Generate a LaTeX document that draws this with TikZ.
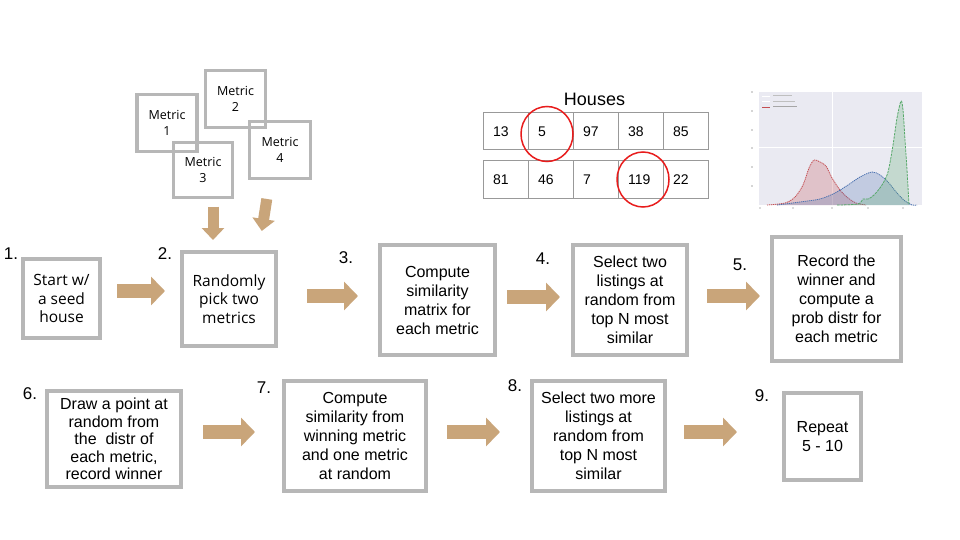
\documentclass[tikz,border=0pt]{standalone}
\usepackage{fontspec}
\setmainfont{Liberation Sans}
\newfontfamily\osans{Open Sans}
\usetikzlibrary{arrows.meta,shapes.geometric}
\definecolor{boxgray}{RGB}{183,183,183}
\definecolor{tanc}{RGB}{201,165,122}
\definecolor{gridgray}{RGB}{153,153,153}
\definecolor{circred}{RGB}{232,28,28}
\definecolor{plotbg}{RGB}{234,234,242}
\definecolor{sred}{RGB}{196,78,82}
\definecolor{sblue}{RGB}{76,114,176}
\definecolor{sgreen}{RGB}{85,168,104}
\begin{document}
\begin{tikzpicture}[x=1pt,y=-1pt,
  stepbox/.style={draw=boxgray, line width=3.5pt, inner sep=0pt, outer sep=0pt, align=center,
    font=\fontsize{16}{19}\selectfont},
  osbox/.style={stepbox, font=\osans\fontsize{15.5}{18.5}\selectfont},
  metricbox/.style={draw=boxgray, line width=3.2pt, inner sep=0pt, outer sep=0pt, align=center,
    minimum width=60pt, minimum height=57pt, font=\osans\fontsize{12.5}{16}\selectfont},
  num/.style={inner sep=0pt, font=\fontsize{17}{19}\selectfont},
  blk/.style={draw=tanc, line width=14pt, -{Triangle[width=28pt,length=14pt]}},
  dblk/.style={draw=tanc, line width=11pt, -{Triangle[width=22pt,length=12pt]}},
  cell/.style={draw=gridgray, line width=1pt, minimum width=45pt, minimum height=37pt,
    inner xsep=10pt, inner ysep=0pt, text width=25pt, align=left, outer sep=0pt,
    font=\fontsize{14}{16}\selectfont},
  ring/.style={draw=circred, line width=1.5pt, ellipse, inner sep=0pt, minimum width=52pt, minimum height=55pt}
]
\useasboundingbox (0,0) rectangle (960,540);
\fill[white] (0,0) rectangle (960,540);

% ---- main step boxes ----
\node[osbox, minimum width=77pt, minimum height=79pt] (b1) at (61.5,298.5) {Start w/\\a seed\\house};
\node[osbox, minimum width=94pt, minimum height=94pt] (b2) at (229,299) {Randomly\\pick two\\metrics};
\node[stepbox, minimum width=115pt, minimum height=110pt] (b3) at (437.5,300) {Compute\\similarity\\matrix for\\each metric};
\node[stepbox, minimum width=114pt, minimum height=110pt] (b4) at (630,300) {Select two\\listings at\\random from\\top N most\\similar};
\node[stepbox, minimum width=129pt, minimum height=124pt] (b5) at (836.5,299) {Record the\\winner and\\compute a\\prob distr for\\each metric};
\node[stepbox, minimum width=134pt, minimum height=96pt, font=\fontsize{16}{17.6}\selectfont] (b6) at (114,439) {Draw a point at\\random from\\the\ \ distr of\\each metric,\\record winner};
\node[stepbox, minimum width=142pt, minimum height=110pt] (b7) at (355,436) {Compute\\similarity from\\winning metric\\and one metric\\at random};
\node[stepbox, minimum width=133pt, minimum height=110pt] (b8) at (598.5,436) {Select two more\\listings at\\random from\\top N most\\similar};
\node[stepbox, minimum width=77pt, minimum height=87pt] (b9) at (822.5,436.5) {Repeat\\5 - 10};

% ---- step numbers ----
\node[num] (n1) at (11,254) {1.};
\node[num] (n2) at (165,254) {2.};
\node[num] (n3) at (346,258) {3.};
\node[num] (n4) at (543,259) {4.};
\node[num] (n5) at (740,265) {5.};
\node[num] (n6) at (30,394) {6.};
\node[num] (n7) at (264,388) {7.};
\node[num] (n8) at (515,386) {8.};
\node[num] (n9) at (762,396) {9.};

% ---- block arrows ----
\draw[blk, shorten <=17pt, shorten >=17pt] (b1.east |- 0,291) -- (b2.west |- 0,291);
\draw[blk, shorten <=31pt, shorten >=22pt] (b2.east |- 0,296) -- (b3.west |- 0,296);
\draw[blk, shorten <=12pt, shorten >=13pt] (b3.east |- 0,297) -- (b4.west |- 0,297);
\draw[blk, shorten <=20pt, shorten >=12pt] (b4.east |- 0,296) -- (b5.west |- 0,296);
\draw[blk, shorten <=22pt, shorten >=29pt] (b6.east |- 0,432) -- (b7.west |- 0,432);
\draw[blk, shorten <=21pt, shorten >=32pt] (b7.east |- 0,432) -- (b8.west |- 0,432);
\draw[blk, shorten <=19pt, shorten >=47pt] (b8.east |- 0,432) -- (b9.west |- 0,432);

% ---- metric boxes ----
\node[metricbox] (m1) at (167,123) {Metric\\1};
\node[metricbox] (m2) at (235.5,99) {Metric\\2};
\node[metricbox, minimum width=59pt, minimum height=55pt] (m3) at (203,170) {Metric\\3};
\node[metricbox, minimum width=61pt] (m4) at (280,150) {Metric\\4};

\draw[dblk, shorten <=9pt, shorten >=12pt] ([xshift=10pt]m3.south) -- ([xshift=10pt]m3.south |- b2.north);
\draw[dblk, shorten <=20.7pt, shorten >=21.3pt] ([xshift=-10pt]m4.south) -- ([xshift=-21.5pt]m4.south |- b2.north);

% ---- houses table ----
\node[font=\fontsize{18}{20}\selectfont, inner sep=0pt] (title) at (594.5,99) {Houses};
\node[cell] (r1c1) at (505.5,131.5) {13};
\node[cell] (r1c2) at (550.5,131.5) {5};
\node[cell] (r1c3) at (595.5,131.5) {97};
\node[cell] (r1c4) at (640.5,131.5) {38};
\node[cell] (r1c5) at (685.5,131.5) {85};
\node[cell] (r2c1) at (505.5,179.5) {81};
\node[cell] (r2c2) at (550.5,179.5) {46};
\node[cell] (r2c3) at (595.5,179.5) {7};
\node[cell] (r2c4) at (640.5,179.5) {119};
\node[cell] (r2c5) at (685.5,179.5) {22};
\node[ring] (ring1) at (547,134) {};
\node[ring] (ring2) at (643,179.5) {};

% ---- density plot ----
\fill[plotbg] (759,92) rectangle (922,205);
\draw[white, line width=1pt] (832,92) -- (832,205);
\draw[white, line width=1pt] (759,148) -- (922,148);
\foreach \yy in {92,111,130,148,167,186} \fill[black!70] (752,\yy) circle (0.7pt);
\foreach \xx in {760,793,832,868,903} \fill[black!60] (\xx,208) circle (0.7pt);
% legend
\draw[white, line width=0.7pt] (762,96) -- (770,96);
\draw[white, line width=0.7pt] (762,101.5) -- (770,101.5);
\draw[sred, line width=0.9pt] (762,107) -- (770,107);
\draw[black!25, line width=1pt] (773,96) -- (792,96);
\draw[black!25, line width=1pt] (773,101.5) -- (795,101.5);
\draw[black!35, line width=1pt] (773,107) -- (797,107);
% red
\fill[sred, opacity=0.25] plot[smooth] coordinates {(767,205) (785,203) (795,197) (803,185) (809,168) (814,160) (820,162) (826,166) (832,178) (840,190) (848,198) (856,203) (866,205)} -- cycle;
\draw[sred, line width=0.8pt, dash pattern=on 1.2pt off 0.8pt] plot[smooth] coordinates {(767,205) (785,203) (795,197) (803,185) (809,168) (814,160) (820,162) (826,166) (832,178) (840,190) (848,198) (856,203) (866,205)};
% blue
\fill[sblue, opacity=0.25] plot[smooth] coordinates {(777,205) (800,202) (820,199) (835,193) (848,185) (860,177) (872,172) (880,175) (888,182) (897,193) (905,201) (912,205) (917,205)} -- cycle;
\draw[sblue, line width=0.8pt, dash pattern=on 1.2pt off 0.8pt] plot[smooth] coordinates {(777,205) (800,202) (820,199) (835,193) (848,185) (860,177) (872,172) (880,175) (888,182) (897,193) (905,201) (912,205) (917,205)};
% green
\fill[sgreen, opacity=0.25] plot[smooth] coordinates {(837,205) (858,204) (863,199) (868,199) (874,195) (882,185) (888,172) (893,145) (897,118) (901,101) (903,110) (905,140) (907,170) (909,205)} -- cycle;
\draw[sgreen, line width=0.8pt, dash pattern=on 2.5pt off 1pt] plot[smooth] coordinates {(837,205) (858,204) (863,199) (868,199) (874,195) (882,185) (888,172) (893,145) (897,118) (901,101) (903,110) (905,140) (907,170) (909,205)};
\end{tikzpicture}
\end{document}
